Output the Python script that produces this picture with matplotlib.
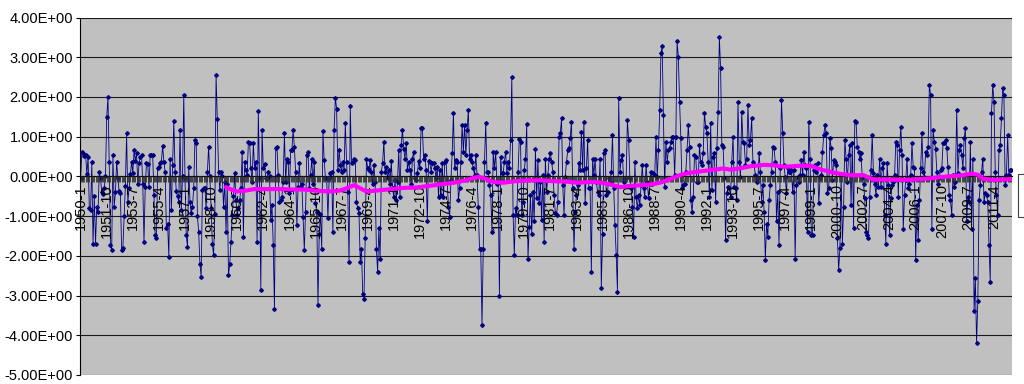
# Série mensal com média móvel. ===============================================

import matplotlib
matplotlib.use('Agg')
import matplotlib.pyplot as plt
from matplotlib.patches import Rectangle
from matplotlib.ticker import FuncFormatter

plt.rcParams['font.family'] = ['Liberation Sans', 'DejaVu Sans']


# Dados. ======================================================================

# Valores mensais, uma linha por ano.

v1950s = [
    -0.05, 0.62, 0.58, 0.52, 0.55, 0.05, 0.5, -0.8, -0.85, 0.35, -1.7, -0.5,
    -1.7, -0.77, -0.9, 0.1, -0.05, -0.4, -0.45, -0.3, 0.0, 1.5, 2.0, 0.37,
    -1.73, -1.86, 0.54, -0.76, -0.4, 0.37, -0.05, -0.38, -0.42, -1.86, -1.8, -1.0,
    -0.25, 1.08, -0.64, -0.3, 0.06, 0.37, 0.08, 0.66, 0.4, 0.58, -0.18, 0.33,
    0.5, 0.54, -0.18, -1.65, -0.26, 0.33, 0.3, -0.26, 0.55, 0.55, 0.54, -0.47,
    -1.48, -1.55, 0.2, 0.24, 0.33, 0.37, 0.76, 0.37, 0.12, -1.3, -1.2, -2.03,
    0.45, -0.85, 0.28, 1.39, 0.12, -0.38, -0.5, -0.64, 1.17, -0.85, 0.0, 2.05,
    -0.05, -1.48, -1.77, 0.24, -0.64, -0.93, -0.76, -0.3, 0.92, 0.85, -1.0, -1.4,
    -2.2, -2.53, -0.35, -0.3, -0.3, -0.8, 0.1, 0.75, 0.0, -0.8, -1.7, -1.98,
    -0.95, 2.55, 1.44, 0.1, -0.35, 0.1, 0.0, -0.77, -0.13, -1.4, -0.2, -2.49,
]

v1960s = [
    -2.2, -1.65, -0.97, -0.5, 0.08, -0.6, -0.97, -0.8, -0.6, -0.3, 0.62, -1.52,
    0.37, 0.16, 0.03, 0.87, 0.83, 0.2, -0.13, 0.83, 0.2, 0.37, -1.65, 1.65,
    -0.05, -2.85, 1.17, 0.2, 0.3, -0.05, -0.05, 0.12, 0.0, -1.1, -0.72, -1.73,
    -3.33, 0.72, 0.75, 0.03, -0.64, -0.6, -0.51, -0.13, 1.08, -0.13, 0.45, 0.37,
    -0.43, 0.66, 0.66, 1.17, 0.75, 0.12, -1.23, -0.26, 0.33, -0.26, -0.18, -1.02,
    -1.86, -0.9, 0.54, 0.62, -0.3, 0.03, 0.45, -0.2, 0.37, -0.68, -0.9, -3.23,
    -1.44, -0.95, -1.82, 1.14, 0.41, -0.05, -0.05, -1.06, -0.05, 0.08, 0.12, -1.4,
    1.18, 1.98, 1.7, 0.16, 0.66, 0.28, 0.12, 0.37, 0.16, 1.34, 0.37, -0.39,
    -2.15, 1.76, 0.33, 0.37, 0.45, 0.41, -0.64, -0.8, -0.93, -2.15, -1.82, -2.95,
    -3.08, -1.56, 0.45, 0.2, 0.16, 0.41, 0.12, -0.2, 0.28, -0.13, -1.82, -2.4,
]

v1970s = [
    -1.3, -2.07, 0.12, 0.33, 0.87, 0.12, 0.24, -0.05, 0.16, -0.18, 0.39, -0.3,
    -0.51, -0.1, -0.6, -0.13, 0.66, -0.51, 0.8, 1.17, 0.7, 0.45, 0.83, 0.16,
    0.37, 0.16, -0.18, 0.45, 0.62, -0.05, -0.1, 0.08, 0.39, 0.2, 1.23, 1.23,
    0.45, 0.54, 0.16, -1.13, 0.4, 0.37, 0.12, 0.33, 0.33, 0.2, -0.05, 0.24,
    -0.51, 0.16, -0.47, 0.33, -0.51, 0.37, 0.41, -0.13, -0.76, -1.02, -0.1, 0.58,
    1.6, 0.2, 0.41, 0.37, -0.6, -0.3, 0.37, 1.3, 0.62, 1.3, 0.54, 1.17,
    1.67, 0.45, 0.54, 0.37, 0.2, 0.03, 0.55, 0.03, -0.78, -1.82, -1.84, -3.75,
    -1.82, 0.37, 1.34, 0.12, 0.12, -0.22, -0.47, -1.4, 0.62, 0.2, 0.62, -0.18,
    -0.13, -3.0, 0.5, 0.08, 0.08, 0.37, 0.62, 0.08, 0.37, 0.2, 0.92, 2.49,
    -0.96, -1.98, -0.8, -0.97, 0.12, 0.94, 0.87, -0.97, -0.64, 0.16, 0.45, 1.31,
]

v1980s = [
    -2.07, -1.27, -0.47, -1.44, -0.39, -1.13, 0.7, -0.55, 0.41, -0.68, -0.13, -1.1,
    0.03, -1.65, 0.45, -0.39, 0.03, 0.45, 0.58, 0.37, 0.12, -0.47, -0.93, -0.97,
    -0.64, 1.0, 1.08, 1.46, -0.22, -0.97, -0.01, 0.37, 0.66, 0.71, 0.96, 1.38,
    -0.3, -1.82, -0.89, -0.47, -0.22, 0.33, 0.16, 1.13, 0.16, 1.38, -0.68, 0.2,
    0.92, -0.3, -0.3, -2.4, 0.45, 0.03, 0.45, -0.13, -0.39, -0.47, 0.45, -2.82,
    -1.44, 0.58, 0.66, -0.47, -0.39, -0.05, -0.13, 0.12, 1.04, -0.3, -1.23, -1.98,
    -2.9, 1.97, 0.12, 0.41, 0.54, -0.13, -0.05, -0.05, 1.42, 0.92, -0.05, -0.3,
    -0.76, -1.52, 0.37, -0.51, -0.8, -0.47, -0.72, -0.22, 0.28, -0.3, -0.51, 0.28,
    -0.13, -0.55, -0.18, 0.12, -0.18, 0.08, 0.03, 1.0, -0.01, 0.66, 1.67, 3.1,
    3.27, 1.55, -0.26, 0.87, 0.37, 0.66, 0.71, 0.87, 1.0, 1.0, 0.03, 1.0,
]

v1990s = [
    3.4, 3.0, 1.88, 0.96, -0.3, -0.22, -0.18, 0.12, 0.66, 1.29, 0.75, -0.6,
    -0.89, -0.51, 0.54, 0.5, -0.13, -0.13, 0.79, 0.37, 0.29, 0.58, 1.6, 1.25,
    1.08, 0.37, -0.51, 1.34, -0.34, 0.5, 0.58, -0.64, 0.71, 1.63, 3.5, 2.72,
    0.79, 0.75, -0.05, -1.6, -0.43, -0.26, -0.3, -0.51, 0.37, 1.0, -0.26, -0.3,
    -0.6, 1.88, 0.37, -0.01, 1.63, 0.87, 0.83, 0.29, 0.45, 1.8, 0.79, 0.92,
    1.46, 0.37, 0.29, 0.03, -0.13, -0.05, 0.58, 0.12, -0.64, -0.22, -0.89, -2.1,
    -1.19, -1.52, -0.6, -0.22, 0.12, 0.75, 0.71, 0.37, -1.13, -0.39, -1.73, 0.2,
    1.92, 1.08, 0.29, -0.01, -0.43, 0.2, 0.12, 0.12, 0.16, -0.39, 0.16, -2.07,
    -0.22, -0.01, -0.13, 0.03, 0.41, 0.03, 0.62, 0.29, 0.2, -1.39, 1.38, 0.45,
    -1.48, -1.48, 0.16, 0.29, 0.12, 0.33, -0.68, -0.05, 0.03, 0.62, 1.04, 1.29,
]

v2000s = [
    1.08, -0.43, -0.3, 0.96, 0.71, -0.09, 0.41, 0.37, 0.29, -1.56, -2.36, -1.81,
    0.03, -1.69, -0.77, 0.92, 0.45, -0.13, 0.54, 0.79, -0.72, 0.83, -1.31, 1.4,
    1.38, 0.75, 0.62, 0.45, 0.58, -0.05, -0.18, -0.55, -1.39, -1.48, -1.56, -0.51,
    0.16, 1.04, 0.08, -0.18, -0.47, 0.03, -0.26, 0.45, -0.26, 0.2, 0.33, -0.97,
    -1.69, 0.33, -0.22, -1.48, -0.55, -0.22, -0.13, 0.03, 0.87, 0.79, -0.51, 0.66,
    1.25, 0.54, -1.32, -0.47, -0.09, 0.45, -0.3, -0.18, 0.03, 0.83, 0.24, 0.2,
    -2.1, -0.72, -1.6, -0.6, 0.2, 1.08, 0.12, -0.01, 0.62, 0.54, 0.75, 2.3,
    2.05, -1.32, 1.17, 0.87, 0.7, 0.12, -0.18, -0.05, 0.16, 0.2, 0.83, 0.83,
    0.92, 0.71, 0.24, -0.47, -0.6, -0.97, 0.03, -0.26, -0.13, 1.67, 0.08, 0.66,
    0.79, 0.54, 0.2, 0.96, 1.21, -1.13, -0.51, -0.64, 0.87, -1.32, 0.45, -3.4,
]

v2010s = [
    -2.57, -4.2, -3.13, -0.6, -0.22, 0.12, 0.45, -0.64, -0.43, -0.47, -0.64, -1.73,
    -2.65, 1.6, 2.3, 1.88, 0.12, -0.47, -0.97, 0.66, 0.79, 1.46, 2.22, 2.05,
    -0.22, 0.03, 1.04, 0.03, 0.16, 0.15,
]

values = v1950s + v1960s + v1970s + v1980s + v1990s + v2000s + v2010s

# Categorias (ano-mês) e passo dos rótulos do eixo x.

start_year = 1950
categories = [f'{start_year + k // 12}-{k % 12 + 1}' for k in range(len(values))]
label_step = 21

# Média móvel (linha rosa): índice do mês e valor.

ma_index = [117, 121, 126, 132, 140, 150, 160, 170, 180, 190, 200, 208, 214,
            220, 225, 230, 240, 250, 260, 270, 280, 290, 300, 310, 316, 320,
            325, 332, 340, 350, 360, 370, 380, 390, 400, 410, 418, 426, 434,
            442, 452, 460, 466, 472, 478, 484, 492, 500, 510, 517, 523, 530,
            540, 550, 558, 566, 575, 580, 588, 596, 605, 612, 620, 630, 638,
            650, 665, 680, 698, 710, 717, 722, 726, 735, 749]
ma_value = [-0.27, -0.33, -0.38, -0.36, -0.32, -0.32, -0.32, -0.33, -0.33,
            -0.36, -0.38, -0.36, -0.3, -0.22, -0.3, -0.38, -0.35, -0.32, -0.29,
            -0.28, -0.24, -0.2, -0.16, -0.1, -0.04, -0.01, -0.05, -0.14, -0.16,
            -0.12, -0.1, -0.1, -0.12, -0.13, -0.16, -0.14, -0.15, -0.2, -0.27,
            -0.24, -0.22, -0.2, -0.16, -0.1, -0.02, 0.05, 0.1, 0.13, 0.17, 0.2,
            0.17, 0.2, 0.26, 0.29, 0.28, 0.24, 0.26, 0.27, 0.26, 0.17, 0.1,
            0.06, 0.03, 0.03, -0.08, -0.08, -0.09, -0.06, 0.0, 0.03, 0.07, 0.04,
            -0.06, -0.09, -0.07]


# Figura. =====================================================================

n = len(values)

fig = plt.figure(figsize=(10.24, 3.84), dpi=100)
ax = fig.add_axes([80 / 1024, 9 / 384, 932 / 1024, 357.5 / 384])
ax.set_facecolor('#C0C0C0')

ax.plot(range(n), values, color='#000080', linewidth=0.6,
        marker='D', markersize=1.9, zorder=2)
ax.plot(ma_index, ma_value, color='#FF00FF', linewidth=3.0,
        solid_capstyle='round', zorder=4)

ax.set_xlim(-0.5, n - 0.5)
ax.set_ylim(-5, 4)

# Eixo y.

ax.set_yticks(range(-5, 5))
ax.yaxis.set_major_formatter(FuncFormatter(lambda v, p: f'{v:.2E}'))
ax.grid(axis='y', color='#1a1a1a', linewidth=0.8)
ax.set_axisbelow(True)
ax.tick_params(axis='y', direction='out', length=3, width=0.8,
               pad=2, labelsize=10.5)

# Eixo x (categorias) cruzando em zero.

ax.spines['top'].set_visible(False)
ax.spines['right'].set_visible(False)
ax.spines['bottom'].set_position(('data', 0))
ax.spines['bottom'].set_linewidth(0.8)
ax.spines['left'].set_linewidth(0.8)

ax.set_xticks(range(0, n, label_step))
ax.set_xticklabels(categories[::label_step], rotation=90)
ax.set_xticks(range(n), minor=True)
ax.tick_params(axis='x', which='both', direction='out', length=4.5,
               width=0.6, color='#303030', pad=1, labelsize=10.5)
ax.xaxis.set_zorder(3)

# Caixa da legenda, cortada na borda direita como no original.

fig.add_artist(Rectangle((1018 / 1024, 167 / 384), 0.05, 43 / 384,
                         transform=fig.transFigure, facecolor='white',
                         edgecolor='#404040', linewidth=0.8))

fig.savefig('out.png', dpi=100, facecolor='white')
